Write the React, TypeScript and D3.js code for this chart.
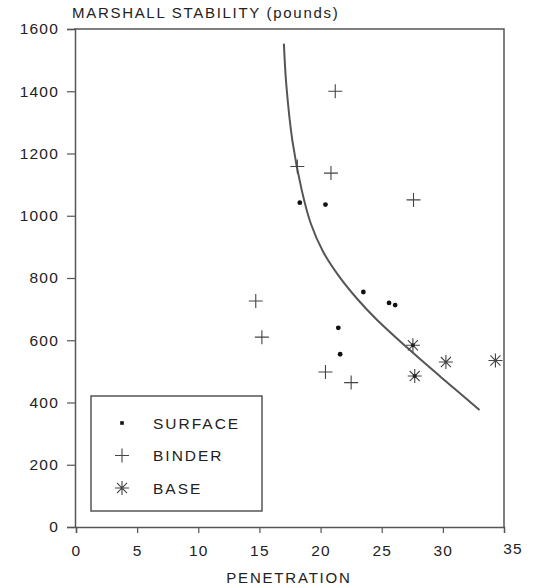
import React, { useEffect, useRef } from "react";
import * as d3 from "d3";

// values
const surfacePen = [18.3, 20.4, 23.5, 25.6, 26.1, 21.45, 21.6];
const surfaceStab = [1042, 1036, 755, 720, 713, 640, 555];

const binderPen = [21.2, 18.1, 20.85, 27.6, 14.7, 15.2, 20.4, 22.5];
const binderStab = [1400, 1158, 1137, 1051, 726, 610, 498, 464];

const basePen = [27.55, 27.7, 30.25, 34.3];
const baseStab = [584, 485, 530, 535];

const curvePen = [17.0, 17.2, 17.7, 18.45, 19.2, 20.2, 21.5, 22.95, 24.5, 27.0, 29.8, 33.0];
const curveStab = [1553, 1420, 1240, 1084, 975, 885, 806, 735, 670, 579, 483, 376];

const xTicks = [0, 5, 10, 15, 20, 25, 30, 35];
const yTicks = [0, 200, 400, 600, 800, 1000, 1200, 1400, 1600];
const legendLabels = ["SURFACE", "BINDER", "BASE"];

const W = 535;
const H = 588;
const FONT = "'Liberation Sans', Arial, sans-serif";
const INK = "#222";
const LINE = "#555";

export default function App() {
  const ref = useRef<SVGSVGElement>(null);

  useEffect(() => {
    const svg = d3.select(ref.current);
    svg.selectAll("*").remove();

    const x = d3.scaleLinear().domain([0, 35]).range([76, 504]);
    const y = d3.scaleLinear().domain([0, 1600]).range([527, 29]);

    // frame (top and right lines)
    svg.append("path")
      .attr("d", `M${x(0) - 2},${y(1600)}H${x(35)}V${y(0)}`)
      .attr("fill", "none")
      .attr("stroke", LINE)
      .attr("stroke-width", 1.5);

    // left axis
    const yAxis = svg.append("g")
      .attr("transform", `translate(${x(0) - 1},0)`)
      .call(d3.axisLeft(y).tickValues(yTicks).tickSize(8).tickPadding(8).tickFormat(d3.format("d")));
    yAxis.select(".domain").attr("stroke", LINE).attr("stroke-width", 1.5);
    yAxis.selectAll(".tick line").attr("stroke", LINE).attr("stroke-width", 1.2);
    yAxis.selectAll("text")
      .attr("font-family", FONT)
      .attr("font-size", 15.5)
      .attr("fill", INK)
      .attr("letter-spacing", 1.2);

    // bottom axis
    const xAxis = svg.append("g")
      .attr("transform", `translate(0,${y(0)})`)
      .call(d3.axisBottom(x).tickValues(xTicks.slice(0, -1)).tickSize(6).tickPadding(12).tickFormat(d3.format("d")));
    xAxis.select(".domain").attr("stroke", LINE).attr("stroke-width", 1.5);
    xAxis.selectAll(".tick line").attr("stroke", LINE).attr("stroke-width", 1.2);
    xAxis.selectAll("text")
      .attr("font-family", FONT)
      .attr("font-size", 15.5)
      .attr("fill", INK)
      .attr("letter-spacing", 1.2);
    // last label sits a little right of the frame
    svg.append("text")
      .attr("x", x(35) + 9)
      .attr("y", y(0) + 16)
      .attr("dy", "0.71em")
      .attr("text-anchor", "middle")
      .attr("font-family", FONT)
      .attr("font-size", 15.5)
      .attr("fill", INK)
      .attr("letter-spacing", 1.2)
      .text(xTicks[xTicks.length - 1]);

    // titles
    svg.append("text")
      .attr("x", 72)
      .attr("y", 18)
      .attr("font-family", FONT)
      .attr("font-size", 15)
      .attr("fill", INK)
      .attr("letter-spacing", 1.7)
      .text("MARSHALL STABILITY (pounds)");
    svg.append("text")
      .attr("x", 289)
      .attr("y", 583)
      .attr("text-anchor", "middle")
      .attr("font-family", FONT)
      .attr("font-size", 15)
      .attr("fill", INK)
      .attr("letter-spacing", 1.8)
      .text("PENETRATION");

    // fitted curve
    const curve = d3.zip(curvePen, curveStab);
    svg.append("path")
      .datum(curve)
      .attr("d", d3.line<number[]>().x(d => x(d[0])).y(d => y(d[1])).curve(d3.curveCatmullRom.alpha(0.5)))
      .attr("fill", "none")
      .attr("stroke", "#555")
      .attr("stroke-width", 2);

    const plus = (g: any, r: number) =>
      g.append("path")
        .attr("d", `M${-r},0H${r}M0,${-r}V${r}`)
        .attr("stroke", "#444")
        .attr("stroke-width", 1.1)
        .attr("fill", "none");
    const star = (g: any, r: number) => {
      const k = r * 0.72;
      g.append("path")
        .attr("d", `M${-r},0H${r}M0,${-r}V${r}M${-k},${-k}L${k},${k}M${-k},${k}L${k},${-k}`)
        .attr("stroke", "#444")
        .attr("stroke-width", 1.1)
        .attr("fill", "none");
    };

    // surface points
    svg.append("g")
      .selectAll("circle")
      .data(d3.zip(surfacePen, surfaceStab))
      .join("circle")
      .attr("cx", d => x(d[0]))
      .attr("cy", d => y(d[1]))
      .attr("r", 2.4)
      .attr("fill", "#111");

    // binder points
    d3.zip(binderPen, binderStab).forEach(d => {
      const g = svg.append("g").attr("transform", `translate(${x(d[0])},${y(d[1])})`);
      plus(g, 7);
    });

    // base points
    d3.zip(basePen, baseStab).forEach((d, i) => {
      const g = svg.append("g").attr("transform", `translate(${x(d[0])},${y(d[1])})`);
      star(g, 7);
      if (i < 2) g.append("circle").attr("r", 2).attr("fill", "#222");
    });

    // legend
    const lg = svg.append("g");
    lg.append("rect")
      .attr("x", 91)
      .attr("y", 396)
      .attr("width", 171)
      .attr("height", 115)
      .attr("fill", "#fff")
      .attr("stroke", LINE)
      .attr("stroke-width", 1.5);
    legendLabels.forEach((label, i) => {
      const cy = 423 + i * 32.5;
      const g = lg.append("g").attr("transform", `translate(122,${cy})`);
      if (i === 0) g.append("rect").attr("x", -1.8).attr("y", -1.8).attr("width", 3.6).attr("height", 3.6).attr("fill", "#111");
      if (i === 1) plus(g, 7);
      if (i === 2) star(g, 7);
      lg.append("text")
        .attr("x", 153)
        .attr("y", cy)
        .attr("dy", "0.36em")
        .attr("font-family", FONT)
        .attr("font-size", 15.5)
        .attr("fill", INK)
        .attr("letter-spacing", 2)
        .text(label);
    });
  }, []);

  return (
    <svg
      ref={ref}
      width={W}
      height={H}
      style={{ position: "absolute", left: 0, top: 0, background: "#fff" }}
    />
  );
}
